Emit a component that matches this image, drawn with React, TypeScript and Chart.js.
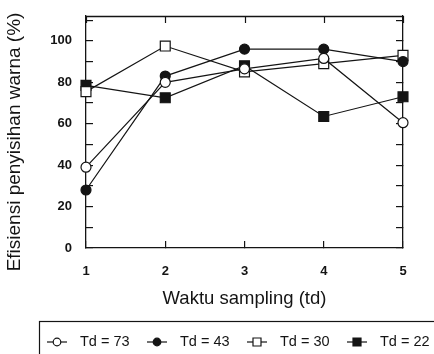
import { useEffect, useRef } from 'react';
import { Chart, registerables } from 'chart.js';

Chart.register(...registerables);

// ---- data ----
const samplingTimes = [1, 2, 3, 4, 5];
const td73 = [39, 80, 86.5, 91.5, 60.5];
const td43 = [28, 83, 96, 96, 90];
const td30 = [75.5, 97.5, 85, 89, 93];
const td22 = [78.5, 72.5, 88, 63.5, 73];
const seriesLabels = ['Td = 73', 'Td = 43', 'Td = 30', 'Td = 22'];
const yTitle = 'Efisiensi penyisihan warna (%)';
const xTitle = 'Waktu sampling (td)';

const FONT = "'Liberation Sans', Arial, Helvetica, sans-serif";
const INK = '#141414';
const TICK_LEN = 7;

const toPoints = (vals: number[]) => vals.map((v, i) => ({ x: samplingTimes[i], y: v }));

const framePlugin = {
  id: 'frameTop',
  afterDraw(chart: any) {
    const ctx = chart.ctx as CanvasRenderingContext2D;
    const { left, right, top } = chart.chartArea;
    const xs = chart.scales.x;
    ctx.save();
    ctx.strokeStyle = INK;
    ctx.lineWidth = 1.3;
    ctx.beginPath();
    ctx.moveTo(left, Math.round(top) + 0.5);
    ctx.lineTo(right, Math.round(top) + 0.5);
    ctx.stroke();
    ctx.lineWidth = 1.2;
    xs.ticks.forEach((t: any) => {
      const px = Math.round(xs.getPixelForValue(t.value)) + 0.5;
      ctx.beginPath();
      ctx.moveTo(px, top);
      ctx.lineTo(px, top + TICK_LEN);
      ctx.stroke();
    });
    ctx.restore();
  },
};

const boxLegendPlugin = {
  id: 'boxLegend',
  afterDraw(chart: any) {
    const ctx = chart.ctx as CanvasRenderingContext2D;
    ctx.save();
    // y title
    ctx.fillStyle = INK;
    ctx.font = `19px ${FONT}`;
    ctx.textAlign = 'center';
    ctx.textBaseline = 'middle';
    ctx.translate(15, 142);
    ctx.rotate(-Math.PI / 2);
    ctx.fillText(yTitle, 0, 0);
    ctx.restore();

    ctx.save();
    ctx.strokeStyle = INK;
    ctx.lineWidth = 1.2;
    ctx.strokeRect(39.5, 321.5, 430, 50);
    const cy = 342;
    chart.data.datasets.forEach((ds: any, i: number) => {
      const cx = 57 + i * 100;
      ctx.beginPath();
      ctx.moveTo(cx - 10, cy);
      ctx.lineTo(cx + 10, cy);
      ctx.strokeStyle = INK;
      ctx.lineWidth = 1.2;
      ctx.stroke();
      ctx.beginPath();
      if (ds.pointStyle === 'circle') {
        ctx.arc(cx, cy, 3.8, 0, Math.PI * 2);
      } else {
        ctx.rect(cx - 4, cy - 4, 8, 8);
      }
      ctx.fillStyle = ds.pointBackgroundColor;
      ctx.fill();
      ctx.stroke();
      ctx.fillStyle = INK;
      ctx.font = `14.5px ${FONT}`;
      ctx.textAlign = 'left';
      ctx.textBaseline = 'middle';
      ctx.fillText(ds.label, cx + 23, cy);
    });
    ctx.restore();
  },
};

const tickFilter = (axis: any) => {
  axis.ticks = axis.ticks.filter((t: any) => Math.abs(t.value % 10) < 1e-6);
};

export default function App() {
  const ref = useRef<HTMLCanvasElement | null>(null);

  useEffect(() => {
    if (!ref.current) return;
    const mk = (label: string, data: number[], style: string, filled: boolean) => ({
      label,
      data: toPoints(data),
      borderColor: INK,
      borderWidth: 1.2,
      pointStyle: style,
      pointRadius: style === 'circle' ? 5 : 7,
      pointBorderWidth: 1.2,
      pointBorderColor: INK,
      pointBackgroundColor: filled ? INK : '#ffffff',
      tension: 0,
      clip: false as any,
    });
    const chart = new Chart(ref.current, {
      type: 'line',
      data: {
        datasets: [
          mk(seriesLabels[0], td73, 'circle', false),
          mk(seriesLabels[1], td43, 'circle', true),
          mk(seriesLabels[2], td30, 'rect', false),
          mk(seriesLabels[3], td22, 'rect', true),
        ],
      },
      options: {
        animation: false,
        responsive: false,
        devicePixelRatio: 1,
        font: { family: FONT },
        layout: { autoPadding: false, padding: { top: 16, right: 31, left: 0, bottom: 0 } },
        plugins: { legend: { display: false }, tooltip: { enabled: false } },
        scales: {
          x: {
            type: 'linear',
            position: 'bottom',
            bounds: 'data',
            min: 1,
            max: 5,
            ticks: { stepSize: 1, color: INK, padding: 23, font: { family: FONT, size: 13, weight: 'bold' } },
            grid: { drawOnChartArea: false, drawTicks: true, tickLength: -TICK_LEN, color: INK, lineWidth: 1.2 },
            border: { display: true, color: INK, width: 1.3 },
            title: { display: true, text: xTitle, color: INK, font: { family: FONT, size: 18.5 }, padding: { top: 0, bottom: 44 } },
            afterFit: (s: any) => { s.height = 106; s.paddingLeft = 0; s.paddingRight = 0; },
          },
          y: {
            type: 'linear',
            position: 'left',
            bounds: 'data',
            min: 0,
            max: 112,
            afterBuildTicks: tickFilter,
            ticks: {
              stepSize: 10,
              color: INK,
              padding: 21,
              font: { family: FONT, size: 13, weight: 'bold' },
              callback: (v: any) => (Number(v) % 20 === 0 ? String(v) : ''),
            },
            grid: { drawOnChartArea: false, drawTicks: true, tickLength: -TICK_LEN, color: INK, lineWidth: 1.2 },
            border: { display: true, color: INK, width: 1.3 },
            afterFit: (s: any) => { s.width = 86; s.paddingTop = 0; s.paddingBottom = 0; },
          },
          y2: {
            type: 'linear',
            position: 'right',
            bounds: 'data',
            min: 0,
            max: 112,
            afterBuildTicks: tickFilter,
            ticks: { stepSize: 10, display: false },
            grid: { drawOnChartArea: false, drawTicks: true, tickLength: -TICK_LEN, color: INK, lineWidth: 1.2 },
            border: { display: true, color: INK, width: 1.3 },
            afterFit: (s: any) => { s.width = 0; s.paddingTop = 0; s.paddingBottom = 0; },
          },
        },
      } as any,
      plugins: [framePlugin, boxLegendPlugin],
    });
    return () => chart.destroy();
  }, []);

  return (
    <canvas
      ref={ref}
      width={434}
      height={354}
      style={{ position: 'absolute', left: 0, top: 0, width: 434, height: 354, background: '#fff' }}
    />
  );
}
